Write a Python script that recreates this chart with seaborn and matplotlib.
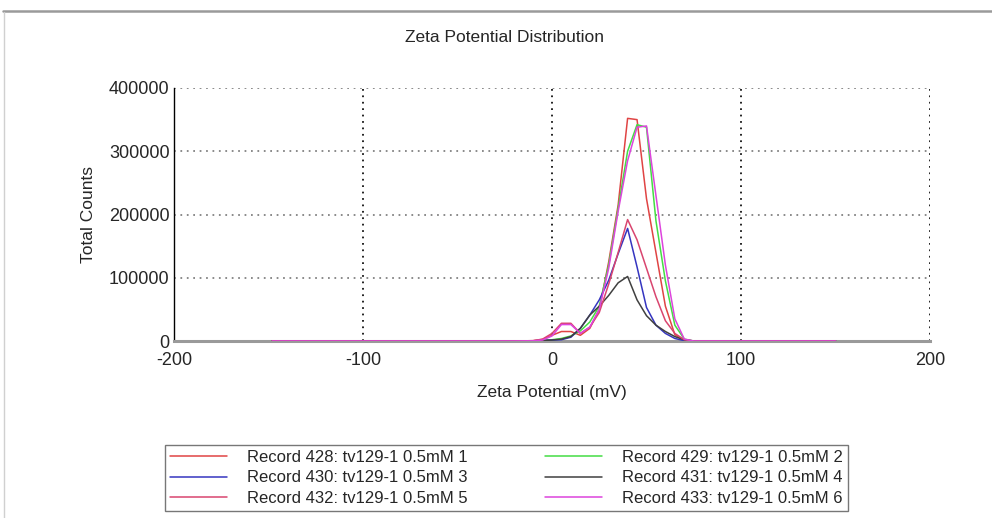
import numpy as np
import pandas as pd
import matplotlib
matplotlib.use("Agg")
import matplotlib.pyplot as plt
from matplotlib.lines import Line2D
from matplotlib.ticker import MultipleLocator
import seaborn as sns

# zeta potential grid (mV), shared by all records
zeta_mv = [-148, -100, -50, -20, -10, -5, 0, 5, 10, 15, 20, 25, 30, 35, 40,
           45, 50, 55, 60, 65, 70, 75, 80, 100, 150]

rec_428 = [0, 0, 0, 0, 500, 2500, 9000, 15000, 15000, 9000, 20000, 50000, 125000,
           215000, 352000, 350000, 225000, 140000, 55000, 10000, 1000, 0, 0, 0, 0]
rec_429 = [0, 0, 0, 0, 300, 1000, 2000, 4000, 8000, 16000, 30000, 55000, 120000,
           210000, 300000, 342000, 338000, 190000, 95000, 25000, 3000, 0, 0, 0, 0]
rec_430 = [0, 0, 0, 0, 200, 800, 1500, 2000, 6000, 20000, 41000, 65000, 96000,
           138000, 178000, 117000, 53000, 25000, 12000, 4000, 500, 0, 0, 0, 0]
rec_431 = [0, 0, 0, 0, 200, 800, 1500, 3000, 7000, 20000, 41000, 55000, 72000,
           92000, 102000, 65000, 40000, 25000, 15000, 7000, 2000, 0, 0, 0, 0]
rec_432 = [0, 0, 0, 0, 500, 3000, 12000, 28000, 28000, 12000, 22000, 45000, 90000,
           140000, 192000, 160000, 115000, 70000, 32000, 12000, 2000, 0, 0, 0, 0]
rec_433 = [0, 0, 0, 0, 300, 1500, 8000, 26000, 26000, 12000, 22000, 50000, 115000,
           205000, 285000, 338000, 340000, 230000, 120000, 35000, 3000, 0, 0, 0, 0]

record_names = [
    "Record 428: tv129-1 0.5mM 1",
    "Record 429: tv129-1 0.5mM 2",
    "Record 430: tv129-1 0.5mM 3",
    "Record 431: tv129-1 0.5mM 4",
    "Record 432: tv129-1 0.5mM 5",
    "Record 433: tv129-1 0.5mM 6",
]
record_colors = ["#e04444", "#44dd44", "#3535c0", "#404040", "#d9456f", "#dd44dd"]

x_ticks = [-200, -100, 0, 100, 200]
y_ticks = [0, 100000, 200000, 300000, 400000]

all_counts = [rec_428, rec_429, rec_430, rec_431, rec_432, rec_433]
frames = []
for name, counts in zip(record_names, all_counts):
    frames.append(pd.DataFrame({"zeta": zeta_mv, "counts": counts, "record": name}))
df = pd.concat(frames, ignore_index=True)

sns.set_style("white")
plt.rcParams["font.family"] = ["Liberation Sans", "DejaVu Sans"]

fig = plt.figure(figsize=(9.92, 5.18), dpi=100)
ax = fig.add_axes([174 / 992, 1 - 341 / 518, (930 - 174) / 992, (341 - 88) / 518])

sns.lineplot(
    data=df, x="zeta", y="counts", hue="record",
    hue_order=record_names, palette=dict(zip(record_names, record_colors)),
    estimator=None, sort=False, linewidth=1.1, ax=ax, legend="full", zorder=3,
)

ax.set_xlim(-200, 200)
ax.set_ylim(0, 400000)
ax.set_xticks(x_ticks)
ax.set_yticks(y_ticks)
ax.set_xticklabels([str(v) for v in x_ticks])
ax.set_yticklabels([str(v) for v in y_ticks])
ax.xaxis.set_minor_locator(MultipleLocator(50))
ax.yaxis.set_minor_locator(MultipleLocator(50000))
ax.tick_params(axis="both", which="both", direction="inout", length=5.5,
               width=1, color="black", labelsize=13)
ax.tick_params(axis="x", pad=5)
ax.tick_params(axis="y", pad=0.5)

ax.grid(False)
for v in x_ticks[1:]:
    ax.axvline(v, color="#222222", lw=1.4, ls=(0, (0.9, 2.4)), zorder=1)
for v in y_ticks[1:]:
    ax.axhline(v, color="#8a8a8a", lw=1.4, ls=(0, (0.9, 2.4)), zorder=1)

for side in ["top", "right"]:
    ax.spines[side].set_visible(False)
ax.spines["left"].set_color("black")
ax.spines["left"].set_linewidth(1)
ax.spines["bottom"].set_color("#9a9a9a")
ax.spines["bottom"].set_linewidth(2.2)

fig.text(505 / 992, 1 - 37 / 518, "Zeta Potential Distribution",
         fontsize=12.5, ha="center", va="center")
ax.set_xlabel("Zeta Potential (mV)", fontsize=12.5, labelpad=12)
ax.set_ylabel("Total Counts", fontsize=12.5, labelpad=9)

handles, labels = ax.get_legend_handles_labels()
ax.get_legend().remove()
order = [0, 2, 4, 1, 3, 5]
leg = fig.legend(
    [handles[i] for i in order], [labels[i] for i in order],
    ncol=2, loc="upper left",
    bbox_to_anchor=(165 / 992, 1 - 508 / 518, (848 - 165) / 992, 63 / 518),
    mode="expand", borderaxespad=0, fontsize=12, frameon=True, fancybox=False,
    handlelength=3.4, handletextpad=1.2, columnspacing=3.2,
    labelspacing=0.32, borderpad=0.3,
)
leg.get_frame().set_edgecolor("#555555")
leg.get_frame().set_linewidth(1)

# window border
fig.add_artist(Line2D([3 / 992, 1], [1 - 11 / 518] * 2, color="#9a9a9a", lw=1.8))
fig.add_artist(Line2D([4 / 992] * 2, [0, 1 - 12 / 518], color="#d0d0d0", lw=1))

fig.savefig("out.png", dpi=100)
